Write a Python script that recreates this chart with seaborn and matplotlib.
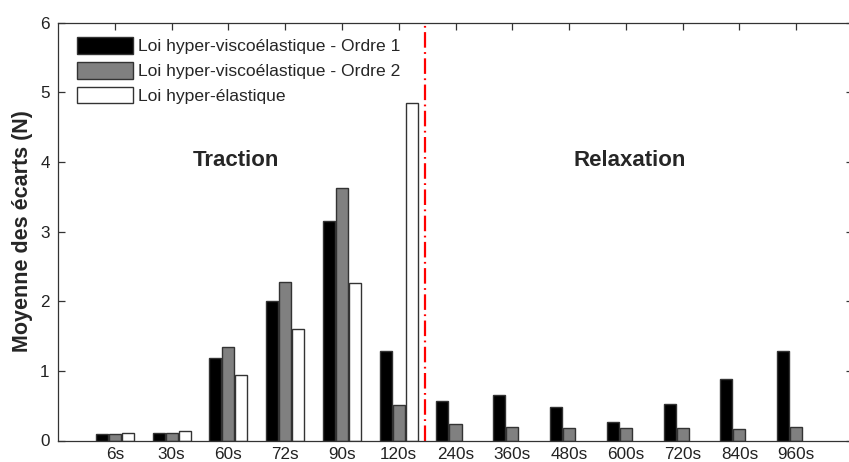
import numpy as np
import pandas as pd
import matplotlib
matplotlib.use('Agg')
import matplotlib.pyplot as plt
from matplotlib.patches import Patch
import seaborn as sns

# data
temps = ['6s', '30s', '60s', '72s', '90s', '120s',
         '240s', '360s', '480s', '600s', '720s', '840s', '960s']
lois = ['Loi hyper-viscoélastique - Ordre 1',
        'Loi hyper-viscoélastique - Ordre 2',
        'Loi hyper-élastique']
ordre1 = [0.09, 0.11, 1.18, 2.00, 3.15, 1.29, 0.57, 0.65, 0.48, 0.26, 0.53, 0.88, 1.29]
ordre2 = [0.09, 0.11, 1.34, 2.27, 3.63, 0.51, 0.24, 0.20, 0.18, 0.18, 0.18, 0.16, 0.20]
elastique = [0.11, 0.13, 0.94, 1.60, 2.26, 4.85,
             np.nan, np.nan, np.nan, np.nan, np.nan, np.nan, np.nan]
couleurs = ['#000000', '#808080', '#ffffff']

df = pd.DataFrame({
    'temps': temps * 3,
    'loi': [lois[0]] * len(temps) + [lois[1]] * len(temps) + [lois[2]] * len(temps),
    'ecart': ordre1 + ordre2 + elastique,
}).dropna()

sns.set_style('ticks')
plt.rcParams['font.family'] = ['Liberation Sans', 'DejaVu Sans']

fig = plt.figure(figsize=(8.49, 4.62), dpi=100)
ax = fig.add_axes([58 / 849, 21.5 / 462, 795 / 849, 418 / 462])

sns.barplot(data=df, x='temps', y='ecart', hue='loi', order=temps, hue_order=lois,
            palette=dict(zip(lois, couleurs)), width=0.69, gap=0.08,
            edgecolor='#333333', linewidth=1, errorbar=None, legend=False, ax=ax)

ax.set_axisbelow(True)
ax.set_xlim(-1, 13)
ax.set_ylim(0, 6)
ax.set_yticks(range(0, 7))
ax.set_xlabel('')
ax.set_ylabel('Moyenne des écarts (N)', fontsize=15.5, fontweight='bold', labelpad=5)

for s in ax.spines.values():
    s.set_visible(True)
    s.set_color('#333333')
    s.set_linewidth(0.9)
# the right side of the box falls outside the picture
ax.spines['right'].set_visible(False)
ax.tick_params(axis='both', direction='in', length=5, width=0.9, color='#333333',
               labelsize=12.3, labelcolor='#222222', top=True, right=True)
ax.tick_params(axis='y', pad=6)
ax.tick_params(axis='x', pad=5)

# separation traction / relaxation
ax.axvline(5.46, color='#ff0000', linewidth=1.6, linestyle=(0, (7, 2, 0.8, 2)))

ax.text(2.14, 4.02, 'Traction', fontsize=16, fontweight='bold', ha='center', va='center')
ax.text(9.07, 4.02, 'Relaxation', fontsize=16, fontweight='bold', ha='center', va='center')

handles = [Patch(facecolor=c, edgecolor='#333333', linewidth=1) for c in couleurs]
ax.legend(handles, lois, loc='upper left', bbox_to_anchor=(0.0243, 0.965),
          frameon=False, fontsize=12.6, handlelength=3.2, handleheight=1.1,
          handletextpad=0.25, labelspacing=0.42, borderpad=0, borderaxespad=0)

fig.savefig('out.png', dpi=100)
